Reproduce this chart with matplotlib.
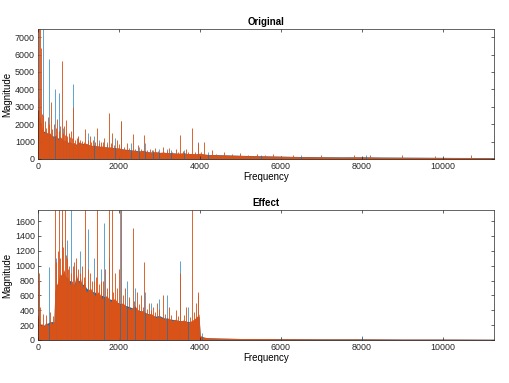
import matplotlib
matplotlib.use('Agg')
import matplotlib.pyplot as plt

plt.rcParams['font.family'] = ['Liberation Sans', 'DejaVu Sans']

blue = '#0072BD'
orange = '#D95319'

# spectrum body (dense part)
env_f = [0, 50, 100, 150, 200, 250, 300, 350, 400, 450, 500, 550, 600, 650, 700, 750, 800, 850, 900, 950,
         1000, 1100, 1200, 1300, 1400, 1500, 1600, 1700, 1800, 1900, 2000, 2100, 2200, 2300, 2400, 2500,
         2600, 2700, 2800, 2900, 3000, 3100, 3200, 3300, 3400, 3500, 3600, 3700, 3800, 3900, 4000, 4100,
         4200, 4500, 5000, 5500, 6000, 6500, 7000, 7500, 8000, 8500, 9000, 9500, 10000, 10500, 11000, 11265]
orig_env_orange = [2400, 2200, 1800, 1500, 1600, 1400, 1500, 1300, 1250, 1400, 1100, 1300, 1150, 1000, 1150,
                   900, 1000, 850, 950, 800, 1000, 850, 900, 750, 800, 700, 750, 650, 700, 600, 650, 550, 520,
                   500, 480, 430, 500, 400, 380, 420, 360, 400, 340, 360, 320, 330, 350, 300, 320, 280, 330,
                   270, 250, 230, 200, 170, 150, 130, 120, 110, 115, 100, 95, 90, 85, 80, 75, 70]
orig_env_blue = [2300, 2500, 1700, 1600, 1500, 1500, 1400, 1350, 1300, 1300, 1200, 1250, 1100, 1050, 1100,
                 950, 950, 900, 900, 850, 950, 900, 850, 800, 750, 750, 700, 700, 650, 650, 600, 580, 550,
                 520, 500, 460, 480, 420, 400, 400, 380, 380, 360, 350, 340, 320, 340, 310, 300, 290, 310,
                 280, 260, 240, 210, 180, 160, 140, 125, 115, 120, 105, 100, 95, 90, 85, 80, 75]

eff_env_f = [0, 25, 50, 100, 150, 200, 250, 300, 350, 400, 420, 450, 500, 550, 600, 650, 700, 750, 800, 850,
             900, 950, 1000, 1050, 1100, 1150, 1200, 1300, 1400, 1500, 1600, 1700, 1800, 1900, 2000, 2100,
             2200, 2300, 2400, 2500, 2600, 2700, 2800, 2900, 3000, 3100, 3200, 3300, 3400, 3500, 3600, 3700,
             3800, 3900, 3980, 4010, 4100, 4200, 4500, 5000, 6000, 7000, 8000, 9000, 10000, 11265]
eff_env_orange = [350, 300, 200, 220, 180, 240, 200, 260, 220, 250, 650, 700, 800, 900, 850, 950, 800, 850,
                  750, 800, 700, 900, 750, 850, 700, 780, 650, 700, 600, 650, 550, 600, 520, 560, 480, 500,
                  440, 420, 460, 380, 400, 340, 360, 300, 320, 280, 300, 260, 280, 250, 270, 240, 260, 300,
                  350, 60, 40, 30, 25, 20, 18, 15, 15, 12, 12, 10]
eff_env_blue = [300, 280, 230, 200, 200, 220, 230, 240, 250, 230, 600, 750, 750, 850, 900, 900, 850, 800,
                800, 750, 750, 850, 800, 800, 750, 750, 700, 650, 650, 600, 600, 560, 550, 520, 500, 470,
                460, 440, 420, 400, 380, 360, 340, 320, 330, 300, 290, 280, 270, 260, 260, 250, 250, 280,
                320, 50, 35, 30, 25, 20, 18, 15, 15, 12, 12, 10]

# single peaks sticking out of the body
orig_pk_orange_f = [10, 20, 40, 60, 80, 100, 120, 140, 180, 210, 250, 280, 330, 360, 400, 440, 480, 520, 560,
                    593, 620, 650, 680, 700, 730, 760, 790, 820, 850, 880, 920, 960, 1000, 1050, 1100, 1150,
                    1175, 1230, 1280, 1320, 1370, 1420, 1464, 1500, 1560, 1600, 1640, 1700, 1760, 1800, 1830,
                    1880, 1950, 2000, 2060, 2120, 2200, 2260, 2346, 2400, 2480, 2560, 2632, 2700, 2760, 2820,
                    2900, 2980, 3100, 3180, 3250, 3320, 3400, 3460, 3521, 3580, 3650, 3720, 3817, 3880, 3950,
                    4020, 4100, 4300, 4400, 4600, 4800, 5000, 5200, 5400, 5600, 5800, 6000, 6300, 7000, 7800,
                    8200, 9000, 9800, 10700]
orig_pk_orange_v = [2800, 3500, 7450, 7450, 6400, 2600, 2500, 1900, 2200, 1800, 2400, 2000, 3300, 1700, 2000,
                    1800, 2300, 1600, 1900, 5600, 1500, 1900, 1400, 2250, 1300, 1500, 1250, 1600, 1200, 3000,
                    1100, 1200, 1300, 1100, 1050, 1000, 1700, 1100, 1300, 950, 1100, 1000, 1750, 900, 1000,
                    950, 1200, 850, 2650, 900, 1500, 800, 1100, 850, 2200, 700, 900, 650, 1450, 600, 800, 600,
                    1350, 500, 600, 520, 650, 480, 700, 450, 650, 420, 550, 400, 1350, 430, 600, 380, 1800,
                    400, 900, 420, 1000, 500, 300, 400, 260, 350, 230, 300, 200, 280, 180, 250, 220, 250, 200,
                    200, 180, 250]
orig_pk_blue_f = [138, 287, 427, 533, 620, 700, 760, 880, 1000, 1250, 1400, 1520, 1700, 1900, 2057, 2300,
                  2500, 2650, 2850, 3000, 3200, 3300, 3600, 3950, 4200, 5500, 6500, 8100]
orig_pk_blue_v = [7450, 5750, 4000, 3800, 1800, 1500, 1400, 4300, 1200, 1500, 1300, 1100, 1000, 1200, 2200,
                  900, 700, 900, 500, 550, 600, 500, 500, 1000, 400, 250, 220, 200]

eff_pk_orange_f = [20, 40, 60, 120, 200, 300, 380, 427, 460, 490, 526, 560, 592, 610, 633, 674, 700, 720,
                   750, 780, 830, 870, 900, 950, 1000, 1050, 1100, 1130, 1176, 1230, 1300, 1350, 1400, 1440,
                   1472, 1520, 1560, 1600, 1650, 1700, 1760, 1827, 1860, 1900, 1960, 2000, 2050, 2100, 2150,
                   2250, 2346, 2380, 2450, 2500, 2550, 2600, 2632, 2700, 2750, 2800, 2850, 2900, 2950, 3000,
                   3100, 3150, 3250, 3300, 3400, 3450, 3521, 3600, 3650, 3750, 3817, 3850, 3900, 3950]
eff_pk_orange_v = [900, 800, 450, 350, 330, 380, 320, 1750, 1050, 1200, 1750, 1100, 1750, 1000, 1250, 1750,
                   1150, 1100, 950, 1000, 900, 1000, 1050, 1100, 950, 900, 1000, 850, 1750, 950, 900, 800, 800,
                   850, 1750, 750, 800, 800, 950, 700, 1750, 1750, 650, 900, 700, 950, 1750, 600, 700, 580,
                   1510, 520, 650, 480, 600, 450, 1050, 420, 500, 400, 450, 380, 500, 420, 600, 350, 450, 340,
                   400, 320, 900, 330, 450, 310, 1750, 380, 500, 650]
eff_pk_blue_f = [287, 450, 600, 731, 815, 950, 1050, 1250, 1400, 1550, 1645, 1750, 2032, 2200, 2400, 2650,
                 2800, 3000, 3200, 3521, 3700, 3950, 4050, 6000, 8000]
eff_pk_blue_v = [985, 1100, 1350, 1340, 1750, 1000, 1200, 1490, 1100, 950, 1580, 1100, 1750, 800, 700, 650,
                 500, 550, 600, 1065, 450, 600, 100, 45, 50]

fig = plt.figure(figsize=(5.1, 3.83), dpi=100)
ax1 = fig.add_axes([0.074, 0.585, 0.895, 0.3386])
ax2 = fig.add_axes([0.074, 0.1123, 0.895, 0.3394])

panels = [
    (ax1, 'Original', env_f, orig_env_blue, orig_env_orange, orig_pk_blue_f, orig_pk_blue_v,
     orig_pk_orange_f, orig_pk_orange_v, 7450, range(0, 7001, 1000)),
    (ax2, 'Effect', eff_env_f, eff_env_blue, eff_env_orange, eff_pk_blue_f, eff_pk_blue_v,
     eff_pk_orange_f, eff_pk_orange_v, 1750, range(0, 1601, 200)),
]

for ax, title, ef, eb, eo, pbf, pbv, pof, pov, ytop, yt in panels:
    ax.fill_between(ef, 0, eb, color=blue, lw=0)
    ax.vlines(pbf, 0, pbv, color=blue, lw=0.6, alpha=0.75)
    ax.fill_between(ef, 0, eo, color=orange, lw=0)
    ax.vlines(pof, 0, pov, color=orange, lw=0.7, alpha=0.9)
    ax.set_xlim(0, 11265)
    ax.set_ylim(0, ytop)
    ax.set_xticks(range(0, 10001, 2000))
    ax.set_yticks(list(yt))
    ax.set_title(title, fontsize=7, fontweight='bold', pad=3)
    ax.set_xlabel('Frequency', fontsize=7, labelpad=1)
    ax.set_ylabel('Magnitude', fontsize=7, labelpad=2)
    ax.tick_params(direction='in', length=2.5, width=0.5, labelsize=6.4, colors='#262626',
                   top=True, right=True, pad=2)
    for s in ax.spines.values():
        s.set_color('#262626')
        s.set_linewidth(0.5)

fig.savefig('out.png', dpi=100)
